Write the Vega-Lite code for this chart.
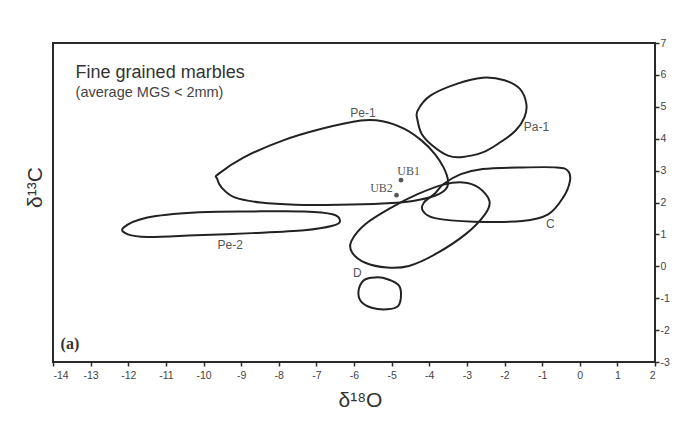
{
  "$schema": "https://vega.github.io/schema/vega-lite/v6.json",
  "width": 602,
  "height": 319,
  "autosize": {"type": "none"},
  "padding": {"left": 53, "top": 43, "right": 28, "bottom": 67},
  "background": "white",
  "config": {
    "view": {"stroke": "#2a2a2a", "strokeWidth": 2},
    "font": "Liberation Sans",
    "axis": {"grid": false, "labelFont": "Liberation Sans", "titleFont": "Liberation Sans", "labelColor": "#444", "titleColor": "#333", "tickColor": "#2a2a2a", "domainColor": "#2a2a2a", "domainWidth": 2, "tickWidth": 1.5}
  },
  "datasets": {
    "shapes": [
      {"g": "Pe-1", "i": 0, "x": -9.61, "y": 2.89},
      {"g": "Pe-1", "i": 1, "x": -8.94, "y": 3.41},
      {"g": "Pe-1", "i": 2, "x": -7.9, "y": 3.94},
      {"g": "Pe-1", "i": 3, "x": -6.86, "y": 4.31},
      {"g": "Pe-1", "i": 4, "x": -5.82, "y": 4.57},
      {"g": "Pe-1", "i": 5, "x": -5.24, "y": 4.55},
      {"g": "Pe-1", "i": 6, "x": -4.66, "y": 4.31},
      {"g": "Pe-1", "i": 7, "x": -4.2, "y": 3.94},
      {"g": "Pe-1", "i": 8, "x": -3.85, "y": 3.52},
      {"g": "Pe-1", "i": 9, "x": -3.62, "y": 3.1},
      {"g": "Pe-1", "i": 10, "x": -3.5, "y": 2.68},
      {"g": "Pe-1", "i": 11, "x": -3.56, "y": 2.42},
      {"g": "Pe-1", "i": 12, "x": -3.85, "y": 2.21},
      {"g": "Pe-1", "i": 13, "x": -4.43, "y": 2.05},
      {"g": "Pe-1", "i": 14, "x": -5.24, "y": 1.97},
      {"g": "Pe-1", "i": 15, "x": -6.4, "y": 1.93},
      {"g": "Pe-1", "i": 16, "x": -7.55, "y": 1.93},
      {"g": "Pe-1", "i": 17, "x": -8.48, "y": 2.0},
      {"g": "Pe-1", "i": 18, "x": -9.17, "y": 2.16},
      {"g": "Pe-1", "i": 19, "x": -9.52, "y": 2.47},
      {"g": "Pe-1", "i": 20, "x": -9.64, "y": 2.75},
      {"g": "Pa-1", "i": 0, "x": -4.31, "y": 4.88},
      {"g": "Pa-1", "i": 1, "x": -3.97, "y": 5.35},
      {"g": "Pa-1", "i": 2, "x": -3.27, "y": 5.72},
      {"g": "Pa-1", "i": 3, "x": -2.58, "y": 5.91},
      {"g": "Pa-1", "i": 4, "x": -2.0, "y": 5.83},
      {"g": "Pa-1", "i": 5, "x": -1.59, "y": 5.56},
      {"g": "Pa-1", "i": 6, "x": -1.42, "y": 5.09},
      {"g": "Pa-1", "i": 7, "x": -1.47, "y": 4.67},
      {"g": "Pa-1", "i": 8, "x": -1.71, "y": 4.25},
      {"g": "Pa-1", "i": 9, "x": -2.11, "y": 3.89},
      {"g": "Pa-1", "i": 10, "x": -2.58, "y": 3.57},
      {"g": "Pa-1", "i": 11, "x": -3.16, "y": 3.42},
      {"g": "Pa-1", "i": 12, "x": -3.5, "y": 3.47},
      {"g": "Pa-1", "i": 13, "x": -3.91, "y": 3.78},
      {"g": "Pa-1", "i": 14, "x": -4.2, "y": 4.15},
      {"g": "Pa-1", "i": 15, "x": -4.31, "y": 4.57},
      {"g": "C", "i": 0, "x": -3.62, "y": 2.58},
      {"g": "C", "i": 1, "x": -3.16, "y": 2.89},
      {"g": "C", "i": 2, "x": -2.58, "y": 3.05},
      {"g": "C", "i": 3, "x": -1.53, "y": 3.1},
      {"g": "C", "i": 4, "x": -0.61, "y": 3.1},
      {"g": "C", "i": 5, "x": -0.32, "y": 3.0},
      {"g": "C", "i": 6, "x": -0.26, "y": 2.68},
      {"g": "C", "i": 7, "x": -0.44, "y": 2.16},
      {"g": "C", "i": 8, "x": -0.84, "y": 1.63},
      {"g": "C", "i": 9, "x": -1.53, "y": 1.42},
      {"g": "C", "i": 10, "x": -2.81, "y": 1.4},
      {"g": "C", "i": 11, "x": -3.85, "y": 1.51},
      {"g": "C", "i": 12, "x": -4.17, "y": 1.74},
      {"g": "C", "i": 13, "x": -4.14, "y": 2.0},
      {"g": "C", "i": 14, "x": -3.85, "y": 2.28},
      {"g": "D", "i": 0, "x": -3.1, "y": 2.63},
      {"g": "D", "i": 1, "x": -2.69, "y": 2.47},
      {"g": "D", "i": 2, "x": -2.4, "y": 2.05},
      {"g": "D", "i": 3, "x": -2.52, "y": 1.63},
      {"g": "D", "i": 4, "x": -3.04, "y": 1.0},
      {"g": "D", "i": 5, "x": -3.85, "y": 0.37},
      {"g": "D", "i": 6, "x": -4.54, "y": 0.01},
      {"g": "D", "i": 7, "x": -5.12, "y": -0.04},
      {"g": "D", "i": 8, "x": -5.7, "y": 0.11},
      {"g": "D", "i": 9, "x": -6.05, "y": 0.43},
      {"g": "D", "i": 10, "x": -6.07, "y": 0.79},
      {"g": "D", "i": 11, "x": -5.7, "y": 1.32},
      {"g": "D", "i": 12, "x": -5.01, "y": 1.84},
      {"g": "D", "i": 13, "x": -4.31, "y": 2.26},
      {"g": "D", "i": 14, "x": -3.62, "y": 2.56},
      {"g": "Pe-2", "i": 0, "x": -12.13, "y": 1.21},
      {"g": "Pe-2", "i": 1, "x": -11.49, "y": 1.53},
      {"g": "Pe-2", "i": 2, "x": -10.22, "y": 1.69},
      {"g": "Pe-2", "i": 3, "x": -8.71, "y": 1.72},
      {"g": "Pe-2", "i": 4, "x": -7.32, "y": 1.72},
      {"g": "Pe-2", "i": 5, "x": -6.57, "y": 1.63},
      {"g": "Pe-2", "i": 6, "x": -6.37, "y": 1.42},
      {"g": "Pe-2", "i": 7, "x": -6.57, "y": 1.27},
      {"g": "Pe-2", "i": 8, "x": -7.32, "y": 1.13},
      {"g": "Pe-2", "i": 9, "x": -8.71, "y": 1.04},
      {"g": "Pe-2", "i": 10, "x": -10.22, "y": 0.97},
      {"g": "Pe-2", "i": 11, "x": -11.49, "y": 0.92},
      {"g": "Pe-2", "i": 12, "x": -12.01, "y": 1.0},
      {"g": "E", "i": 0, "x": -5.24, "y": -0.36},
      {"g": "E", "i": 1, "x": -4.83, "y": -0.57},
      {"g": "E", "i": 2, "x": -4.75, "y": -0.88},
      {"g": "E", "i": 3, "x": -4.83, "y": -1.25},
      {"g": "E", "i": 4, "x": -5.12, "y": -1.35},
      {"g": "E", "i": 5, "x": -5.53, "y": -1.3},
      {"g": "E", "i": 6, "x": -5.82, "y": -1.09},
      {"g": "E", "i": 7, "x": -5.88, "y": -0.78},
      {"g": "E", "i": 8, "x": -5.76, "y": -0.46},
      {"g": "E", "i": 9, "x": -5.53, "y": -0.36}
    ],
    "points": [
      {"name": "UB1", "x": -4.75, "y": 2.7},
      {"name": "UB2", "x": -4.87, "y": 2.23}
    ],
    "labels": [
      {"text": "Pe-1", "x": -5.76, "y": 4.8},
      {"text": "Pa-1", "x": -1.15, "y": 4.36},
      {"text": "C", "x": -0.78, "y": 1.32},
      {"text": "Pe-2", "x": -9.29, "y": 0.67},
      {"text": "D", "x": -5.91, "y": -0.2}
    ],
    "ublabels": [
      {"text": "UB1", "x": -4.55, "y": 2.99},
      {"text": "UB2", "x": -5.27, "y": 2.47}
    ],
    "title1": [{"text": "Fine grained marbles", "x": -13.4, "y": 6.06}],
    "title2": [{"text": "(average MGS < 2mm)", "x": -13.4, "y": 5.44}],
    "panel": [{"text": "(a)", "x": -13.55, "y": -2.45}]
  },
  "resolve": {"axis": {"x": "independent", "y": "independent"}},
  "layer": [
    {
      "data": {"name": "shapes"},
      "mark": {"type": "line", "interpolate": "cardinal-closed", "stroke": "#222", "strokeWidth": 2},
      "encoding": {
        "x": {"field": "x", "type": "quantitative", "scale": {"domain": [-14, 2], "nice": false, "zero": false},
          "axis": {"orient": "bottom", "values": [-14,-13,-12,-11,-10,-9,-8,-7,-6,-5,-4,-3,-2,-1,0,1,2], "labelExpr": "'' + datum.value", "labelOverlap": false, "tickSize": 4, "labelFontSize": 10.5, "labelPadding": 4, "title": "δ¹⁸O", "titleFontSize": 21, "titleFontWeight": "normal", "titlePadding": 9, "titleX": 307, "domain": false}},
        "y": {"field": "y", "type": "quantitative", "scale": {"domain": [-3, 7], "nice": false, "zero": false},
          "axis": {"orient": "right", "values": [-3,-2,-1,0,1,2,3,4,5,6,7], "labelExpr": "'' + datum.value", "labelOverlap": false, "tickSize": 4, "labelFontSize": 10.5, "labelPadding": 1, "title": null, "domain": false}},
        "detail": {"field": "g", "type": "nominal"},
        "order": {"field": "i", "type": "quantitative"}
      }
    },
    {
      "data": {"name": "points"},
      "mark": {"type": "circle", "color": "#555", "size": 22, "opacity": 1},
      "encoding": {
        "x": {"field": "x", "type": "quantitative", "axis": null},
        "y": {"field": "y", "type": "quantitative",
          "axis": {"orient": "left", "labels": false, "ticks": false, "domain": false, "title": "δ¹³C", "titleFontSize": 21, "titleFontWeight": "normal", "titlePadding": 8, "titleY": 144}}
      }
    },
    {
      "data": {"name": "labels"},
      "mark": {"type": "text", "font": "Liberation Sans", "fontSize": 12, "color": "#555", "align": "center", "baseline": "middle"},
      "encoding": {
        "x": {"field": "x", "type": "quantitative", "axis": null},
        "y": {"field": "y", "type": "quantitative", "axis": null},
        "text": {"field": "text"}
      }
    },
    {
      "data": {"name": "ublabels"},
      "mark": {"type": "text", "font": "Liberation Serif", "fontSize": 12, "color": "#555", "align": "center", "baseline": "middle"},
      "encoding": {
        "x": {"field": "x", "type": "quantitative", "axis": null},
        "y": {"field": "y", "type": "quantitative", "axis": null},
        "text": {"field": "text"}
      }
    },
    {
      "data": {"name": "title1"},
      "mark": {"type": "text", "font": "Liberation Sans", "fontSize": 18, "color": "#333", "align": "left", "baseline": "middle"},
      "encoding": {
        "x": {"field": "x", "type": "quantitative", "axis": null},
        "y": {"field": "y", "type": "quantitative", "axis": null},
        "text": {"field": "text"}
      }
    },
    {
      "data": {"name": "title2"},
      "mark": {"type": "text", "font": "Liberation Sans", "fontSize": 14.5, "color": "#444", "align": "left", "baseline": "middle"},
      "encoding": {
        "x": {"field": "x", "type": "quantitative", "axis": null},
        "y": {"field": "y", "type": "quantitative", "axis": null},
        "text": {"field": "text"}
      }
    },
    {
      "data": {"name": "panel"},
      "mark": {"type": "text", "font": "Liberation Serif", "fontSize": 16, "fontWeight": "bold", "color": "#333", "align": "center", "baseline": "middle"},
      "encoding": {
        "x": {"field": "x", "type": "quantitative", "axis": null},
        "y": {"field": "y", "type": "quantitative", "axis": null},
        "text": {"field": "text"}
      }
    }
  ]
}
